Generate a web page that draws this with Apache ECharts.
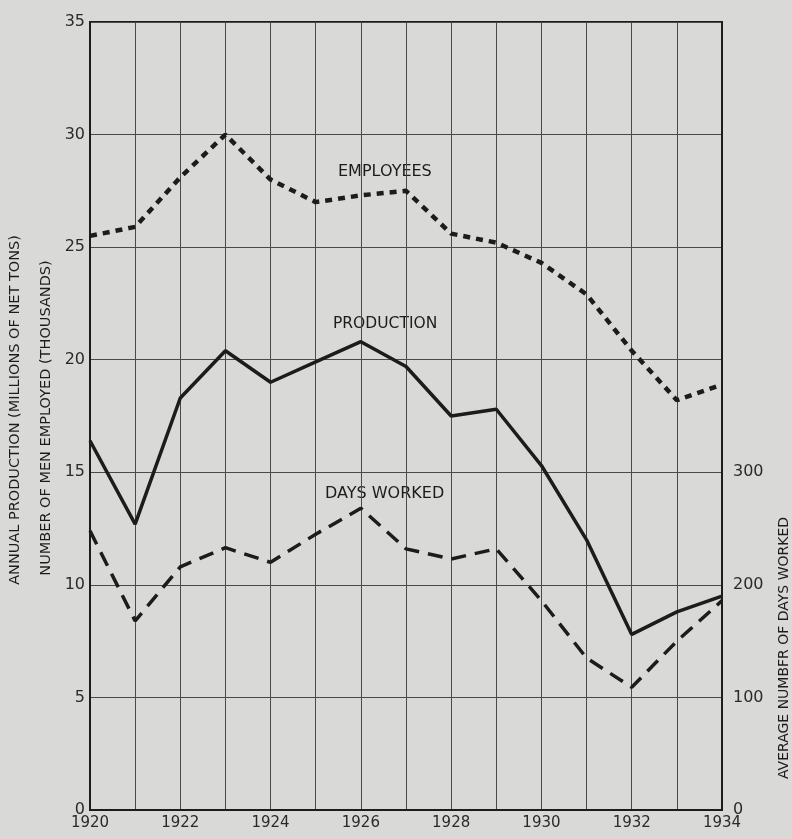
<!DOCTYPE html>
<html>
<head>
<meta charset="utf-8">
<script src="https://cdn.jsdelivr.net/npm/echarts@6/dist/echarts.min.js"></script>
<style>
  html, body { margin: 0; padding: 0; background: #d9d9d7; }
  #chart { width: 792px; height: 839px; }
</style>
</head>
<body>
<div id="chart"></div>
<script>
// years on the x axis
const years = [1920, 1921, 1922, 1923, 1924, 1925, 1926, 1927, 1928, 1929, 1930, 1931, 1932, 1933, 1934]
// thousands of men employed
const employees = [25.5, 25.9, 28.1, 30.0, 28.0, 27.0, 27.3, 27.5, 25.6, 25.2, 24.3, 22.9, 20.4, 18.2, 18.9]
// millions of net tons
const production = [16.4, 12.7, 18.3, 20.4, 19.0, 19.9, 20.8, 19.7, 17.5, 17.8, 15.3, 12.0, 7.8, 8.8, 9.5]
// average number of days worked
const daysWorked = [248, 168, 216, 233, 220, 245, 268, 232, 223, 232, 186, 135, 109, 150, 186]

const font = '"DejaVu Sans", sans-serif'
const ink = '#1c1c1c'

const chart = echarts.init(document.getElementById('chart'))

const pairs = vals => years.map((y, i) => [y, vals[i]])

chart.setOption({
  backgroundColor: '#d9d9d7',
  animation: false,
  textStyle: { fontFamily: font },
  grid: { left: 90, right: 70, top: 22, bottom: 29, show: true, borderColor: ink, borderWidth: 2 },
  xAxis: {
    type: 'value', min: 1920, max: 1934, interval: 1,
    axisLine: { lineStyle: { color: ink, width: 2 } },
    axisTick: { show: false },
    splitLine: { lineStyle: { color: '#4a4a4a', width: 1 } },
    axisLabel: {
      color: '#2a2a2a', fontSize: 15, margin: 6, fontFamily: font,
      formatter: v => (v % 2 === 0 ? String(v) : '')
    }
  },
  yAxis: [
    {
      type: 'value', min: 0, max: 35, interval: 5,
      axisLine: { show: true, lineStyle: { color: ink, width: 2 } },
      axisTick: { show: false },
      splitLine: { lineStyle: { color: '#4a4a4a', width: 1 } },
      axisLabel: { color: '#2a2a2a', fontSize: 16, margin: 5, fontFamily: font }
    },
    {
      type: 'value', min: 0, max: 700, interval: 100, position: 'right',
      axisLine: { show: true, lineStyle: { color: ink, width: 2 } },
      axisTick: { show: false },
      splitLine: { show: false },
      axisLabel: {
        color: '#2a2a2a', fontSize: 16, margin: 11, fontFamily: font,
        formatter: v => (v <= 300 ? String(v) : '')
      }
    }
  ],
  series: [
    {
      name: 'Employees', type: 'line', data: pairs(employees),
      symbol: 'none',
      lineStyle: { color: ink, width: 4.5, type: [7, 6] }
    },
    {
      name: 'Production', type: 'line', data: pairs(production),
      symbol: 'none',
      lineStyle: { color: ink, width: 3.5 }
    },
    {
      name: 'Days worked', type: 'line', yAxisIndex: 1, data: pairs(daysWorked),
      symbol: 'none',
      lineStyle: { color: ink, width: 3.5, type: [15, 9] }
    }
  ],
  graphic: [
    { type: 'text', left: 338, top: 164, style: { text: 'EMPLOYEES', font: '16px ' + font, fill: ink } },
    { type: 'text', left: 333, top: 316, style: { text: 'PRODUCTION', font: '15.5px ' + font, fill: ink } },
    { type: 'text', left: 325, top: 486, style: { text: 'DAYS WORKED', font: '16px ' + font, fill: ink } },
    {
      type: 'text', x: 15, y: 410, rotation: Math.PI / 2,
      style: { text: 'ANNUAL PRODUCTION (MILLIONS OF NET TONS)', font: '14.5px ' + font, fill: ink, align: 'center', verticalAlign: 'middle' }
    },
    {
      type: 'text', x: 46, y: 418, rotation: Math.PI / 2,
      style: { text: 'NUMBER OF MEN EMPLOYED (THOUSANDS)', font: '14.5px ' + font, fill: ink, align: 'center', verticalAlign: 'middle' }
    },
    {
      type: 'text', x: 784, y: 648, rotation: Math.PI / 2,
      style: { text: 'AVERAGE NUMBFR OF DAYS WORKED', font: '14px ' + font, fill: ink, align: 'center', verticalAlign: 'middle' }
    }
  ]
})
</script>
</body>
</html>
